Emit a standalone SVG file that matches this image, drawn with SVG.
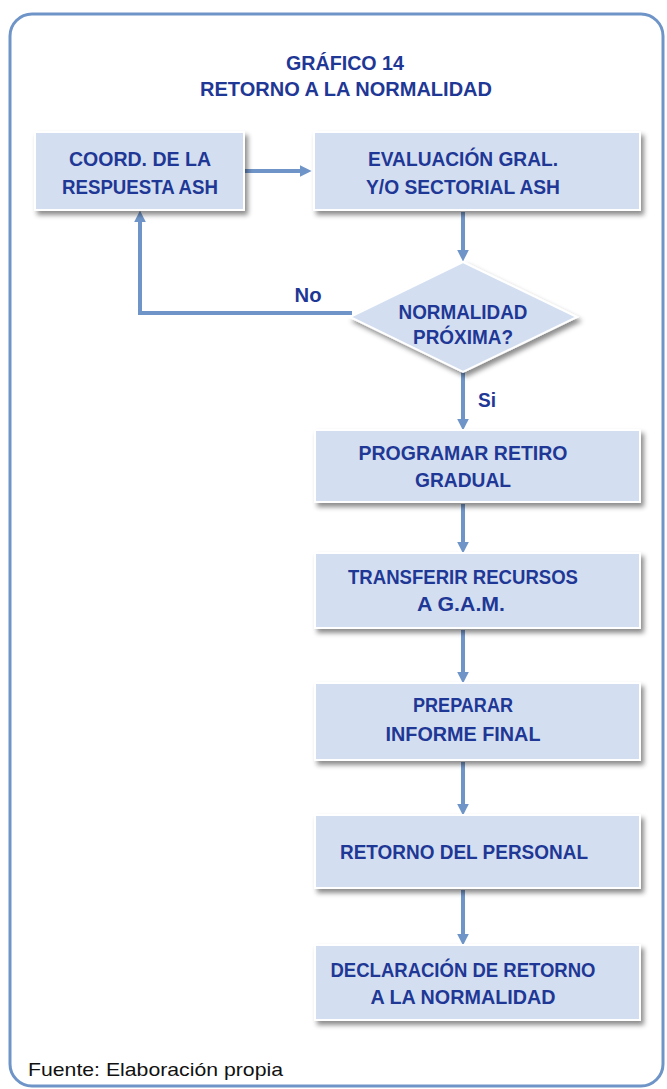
<svg xmlns="http://www.w3.org/2000/svg" width="667" height="1089" viewBox="0 0 667 1089">
<style>
.t{font-family:"Liberation Sans","Open Sans",sans-serif;font-weight:bold;font-size:20.5px;fill:#1f3795;text-anchor:middle}
.box{fill:#d3dff1;stroke:#ffffff;stroke-width:2;filter:url(#sh)}
.c{fill:none;stroke:#6f95c8;stroke-width:4}
.f{font-family:"Liberation Sans","Open Sans",sans-serif;font-size:19px;fill:#111}
</style>
<defs>
<filter id="sh" x="-10%" y="-10%" width="125%" height="135%">
<feDropShadow dx="3" dy="4" stdDeviation="2.5" flood-color="#000" flood-opacity="0.45"/>
</filter>
<marker id="ah" viewBox="0 0 10 10" refX="2" refY="5" markerWidth="3" markerHeight="3" orient="auto" markerUnits="strokeWidth">
<path d="M0,0 L10,5 L0,10 z" fill="#6f95c8"/>
</marker>
</defs>
<rect width="667" height="1089" fill="#fff"/>
<rect x="10" y="14" width="653" height="1072" rx="22" fill="none" stroke="#6f95c8" stroke-width="3"/>
<g id="title">
<text class="t" x="345" y="70" textLength="118" lengthAdjust="spacingAndGlyphs">GRÁFICO 14</text>
<text class="t" x="346" y="96" textLength="292" lengthAdjust="spacingAndGlyphs">RETORNO A LA NORMALIDAD</text>
</g>
<g id="connectors">
<line class="c" x1="245" y1="171" x2="302" y2="171" marker-end="url(#ah)"/>
<line class="c" x1="463" y1="212" x2="463" y2="252" marker-end="url(#ah)"/>
<polyline class="c" points="352,313 140,313 140,220" marker-end="url(#ah)"/>
<line class="c" x1="463" y1="372" x2="463" y2="421" marker-end="url(#ah)"/>
<line class="c" x1="463" y1="504" x2="463" y2="544" marker-end="url(#ah)"/>
<line class="c" x1="463" y1="630" x2="463" y2="674" marker-end="url(#ah)"/>
<line class="c" x1="463" y1="762" x2="463" y2="806" marker-end="url(#ah)"/>
<line class="c" x1="463" y1="890" x2="463" y2="936" marker-end="url(#ah)"/>
<text class="t" x="308" y="302" textLength="27" lengthAdjust="spacingAndGlyphs">No</text>
<text class="t" x="487" y="407" textLength="18" lengthAdjust="spacingAndGlyphs">Si</text>
</g>
<g id="n1">
<rect class="box" x="35" y="132" width="209" height="78"/>
<text class="t" x="140" y="166" textLength="142" lengthAdjust="spacingAndGlyphs">COORD. DE LA</text>
<text class="t" x="140" y="194" textLength="156" lengthAdjust="spacingAndGlyphs">RESPUESTA ASH</text>
</g>
<g id="n2">
<rect class="box" x="314" y="132" width="326" height="78"/>
<text class="t" x="463" y="166" textLength="190" lengthAdjust="spacingAndGlyphs">EVALUACIÓN GRAL.</text>
<text class="t" x="463" y="194" textLength="194" lengthAdjust="spacingAndGlyphs">Y/O SECTORIAL ASH</text>
</g>
<g id="n3">
<polygon class="box" points="463,262 577,317 463,372 350,317"/>
<text class="t" x="463" y="319" textLength="129" lengthAdjust="spacingAndGlyphs">NORMALIDAD</text>
<text class="t" x="463" y="344" textLength="100" lengthAdjust="spacingAndGlyphs">PRÓXIMA?</text>
</g>
<g id="n4">
<rect class="box" x="315" y="430" width="325" height="72"/>
<text class="t" x="463" y="460" textLength="209" lengthAdjust="spacingAndGlyphs">PROGRAMAR RETIRO</text>
<text class="t" x="463" y="487" textLength="96" lengthAdjust="spacingAndGlyphs">GRADUAL</text>
</g>
<g id="n5">
<rect class="box" x="315" y="553" width="325" height="75"/>
<text class="t" x="463" y="584" textLength="230" lengthAdjust="spacingAndGlyphs">TRANSFERIR RECURSOS</text>
<text class="t" x="461" y="611" textLength="88" lengthAdjust="spacingAndGlyphs">A G.A.M.</text>
</g>
<g id="n6">
<rect class="box" x="315" y="683" width="325" height="77"/>
<text class="t" x="463" y="712" textLength="100" lengthAdjust="spacingAndGlyphs">PREPARAR</text>
<text class="t" x="463" y="741" textLength="155" lengthAdjust="spacingAndGlyphs">INFORME FINAL</text>
</g>
<g id="n7">
<rect class="box" x="315" y="815" width="325" height="73"/>
<text class="t" x="464" y="859" textLength="248" lengthAdjust="spacingAndGlyphs">RETORNO DEL PERSONAL</text>
</g>
<g id="n8">
<rect class="box" x="315" y="945" width="325" height="75"/>
<text class="t" x="463" y="977" textLength="265" lengthAdjust="spacingAndGlyphs">DECLARACIÓN DE RETORNO</text>
<text class="t" x="463" y="1004" textLength="185" lengthAdjust="spacingAndGlyphs">A LA NORMALIDAD</text>
</g>
<text class="f" x="28" y="1076" textLength="255" lengthAdjust="spacingAndGlyphs">Fuente: Elaboración propia</text>
</svg>
